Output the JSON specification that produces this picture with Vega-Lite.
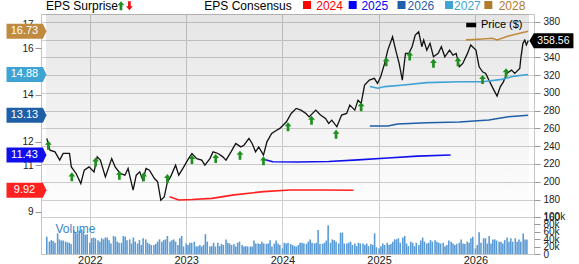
{
"$schema": "https://vega.github.io/schema/vega-lite/v6.json",
"width": 493, "height": 240,
"autosize": "none",
"padding": {"left": 41, "top": 14, "right": 45, "bottom": 10},
"background": "#ffffff",
"config": {"font": "Liberation Sans", "view": {"stroke": "#c4c4c4"}, "axisX": {"title": null}},
"data": {"values": [{}]},
"datasets": {
"price": [
{"d":"2021-07-22","p":248.7},{"d":"2021-08-03","p":235.5},{"d":"2021-08-22","p":233.6},{"d":"2021-09-09","p":224.3},{"d":"2021-09-22","p":231.8},{"d":"2021-10-16","p":231.8},{"d":"2021-10-23","p":216.7},{"d":"2021-11-10","p":209.3},{"d":"2021-11-28","p":198},{"d":"2021-12-11","p":213},{"d":"2021-12-29","p":216.7},
{"d":"2022-01-17","p":211},{"d":"2022-01-29","p":228},{"d":"2022-02-10","p":224.3},{"d":"2022-03-01","p":205.5},{"d":"2022-03-25","p":226},{"d":"2022-04-07","p":216.7},{"d":"2022-04-26","p":209.3},{"d":"2022-05-14","p":207.4},{"d":"2022-05-26","p":214.9},{"d":"2022-06-14","p":190.5},{"d":"2022-06-26","p":207.4},{"d":"2022-07-09","p":211.1},{"d":"2022-07-21","p":201.7},{"d":"2022-08-02","p":214.9},{"d":"2022-08-15","p":213},{"d":"2022-09-03","p":203.6},{"d":"2022-09-15","p":199.8},{"d":"2022-09-27","p":179.2},{"d":"2022-10-10","p":182.9},{"d":"2022-10-22","p":199.8},{"d":"2022-11-03","p":205.5},{"d":"2022-11-22","p":218.6},{"d":"2022-12-04","p":207.4},{"d":"2022-12-23","p":216.7},
{"d":"2023-01-10","p":226},{"d":"2023-01-23","p":231.8},{"d":"2023-02-10","p":226},{"d":"2023-03-01","p":224.3},{"d":"2023-03-13","p":218.6},{"d":"2023-04-01","p":226},{"d":"2023-04-13","p":233.6},{"d":"2023-05-02","p":231.8},{"d":"2023-05-20","p":228},{"d":"2023-06-01","p":224.3},{"d":"2023-06-20","p":233.6},{"d":"2023-07-08","p":243},{"d":"2023-07-27","p":239.2},{"d":"2023-08-08","p":241.1},{"d":"2023-08-27","p":248.7},{"d":"2023-09-08","p":243},{"d":"2023-09-21","p":233.6},{"d":"2023-10-03","p":239.2},{"d":"2023-10-21","p":229.9},{"d":"2023-11-03","p":244.9},{"d":"2023-11-21","p":254.3},{"d":"2023-12-10","p":258},{"d":"2023-12-22","p":260},
{"d":"2024-01-16","p":267.4},{"d":"2024-02-03","p":276.8},{"d":"2024-02-22","p":282.5},{"d":"2024-03-11","p":280.6},{"d":"2024-03-30","p":276.8},{"d":"2024-04-11","p":273},{"d":"2024-05-06","p":280.6},{"d":"2024-05-24","p":275},{"d":"2024-06-12","p":271.2},{"d":"2024-06-24","p":265.6},{"d":"2024-07-06","p":269.3},{"d":"2024-07-25","p":261.8},{"d":"2024-08-12","p":275},{"d":"2024-08-31","p":276.8},{"d":"2024-09-12","p":286.2},{"d":"2024-10-01","p":280.6},{"d":"2024-10-13","p":291.8},{"d":"2024-10-25","p":288.1},{"d":"2024-11-07","p":308.7},{"d":"2024-11-25","p":314.3},{"d":"2024-12-14","p":316.3},{"d":"2024-12-26","p":310.6},
{"d":"2025-01-07","p":318.1},{"d":"2025-01-22","p":333.1},{"d":"2025-02-03","p":348.1},{"d":"2025-02-21","p":363.1},{"d":"2025-03-05","p":348.1},{"d":"2025-03-18","p":333.1},{"d":"2025-03-30","p":314.3},{"d":"2025-04-11","p":344.4},{"d":"2025-04-24","p":344.4},{"d":"2025-05-06","p":351.9},{"d":"2025-05-18","p":365},{"d":"2025-05-31","p":368.7},{"d":"2025-06-12","p":351.9},{"d":"2025-06-19","p":359.4},{"d":"2025-07-01","p":348.1},{"d":"2025-07-13","p":355.7},{"d":"2025-07-26","p":340.6},{"d":"2025-08-13","p":344.4},{"d":"2025-08-25","p":351.9},{"d":"2025-09-07","p":340.6},{"d":"2025-09-25","p":348.1},{"d":"2025-10-08","p":342.5},{"d":"2025-10-20","p":344.4},{"d":"2025-11-01","p":329.3},{"d":"2025-11-14","p":333.1},{"d":"2025-12-02","p":344.4},{"d":"2025-12-14","p":353.8},
{"d":"2026-01-03","p":348.1},{"d":"2026-01-15","p":329.3},{"d":"2026-01-28","p":323.7},{"d":"2026-02-09","p":321.9},{"d":"2026-02-21","p":314.3},{"d":"2026-03-12","p":303.1},{"d":"2026-03-24","p":296.3},{"d":"2026-04-05","p":306.8},{"d":"2026-04-17","p":312.4},{"d":"2026-04-30","p":321.9},{"d":"2026-05-18","p":325.6},{"d":"2026-05-30","p":321.9},{"d":"2026-06-18","p":327.5},{"d":"2026-06-22","p":338.8},{"d":"2026-06-30","p":355.7},{"d":"2026-07-07","p":359.4},{"d":"2026-07-13","p":353.8},{"d":"2026-07-20","p":358.56}
],
"arrows": [
{"d":"2021-07-28","p":241.1},{"d":"2021-10-25","p":205.5},{"d":"2022-01-23","p":222.3},{"d":"2022-04-23","p":207.4},{"d":"2022-07-24","p":205.5},{"d":"2022-10-22","p":203.6},{"d":"2023-01-23","p":225},{"d":"2023-04-23","p":226.2},{"d":"2023-07-24","p":229.9},{"d":"2023-10-21","p":223.5},{"d":"2024-01-22","p":261.8},{"d":"2024-04-20","p":269.3},{"d":"2024-07-22","p":253.5},{"d":"2024-10-25","p":284.3},{"d":"2025-01-28","p":335},{"d":"2025-04-27","p":341.4},{"d":"2025-07-26","p":333.2},{"d":"2025-10-27","p":335},{"d":"2026-01-28","p":315.1},{"d":"2026-04-27","p":322.6}
],
"eps": [
{"d":"2022-10-30","s":"2024","e":9.64},{"d":"2022-12-04","s":"2024","e":9.5},{"d":"2023-01-23","s":"2024","e":9.52},{"d":"2023-04-09","s":"2024","e":9.57},{"d":"2023-07-01","s":"2024","e":9.72},{"d":"2023-10-21","s":"2024","e":9.86},{"d":"2024-01-30","s":"2024","e":9.93},{"d":"2024-05-25","s":"2024","e":9.93},{"d":"2024-09-26","s":"2024","e":9.92},
{"d":"2023-10-21","s":"2025","e":11.25},{"d":"2023-11-25","s":"2025","e":11.14},{"d":"2024-02-28","s":"2025","e":11.13},{"d":"2024-06-24","s":"2025","e":11.15},{"d":"2024-10-13","s":"2025","e":11.22},{"d":"2025-02-03","s":"2025","e":11.3},{"d":"2025-05-26","s":"2025","e":11.38},{"d":"2025-09-29","s":"2025","e":11.43},
{"d":"2024-11-27","s":"2026","e":12.67},{"d":"2025-02-03","s":"2026","e":12.67},{"d":"2025-03-12","s":"2026","e":12.76},{"d":"2025-07-01","s":"2026","e":12.81},{"d":"2025-11-01","s":"2026","e":12.84},{"d":"2026-02-21","s":"2026","e":12.93},{"d":"2026-05-06","s":"2026","e":13.07},{"d":"2026-07-07","s":"2026","e":13.12},{"d":"2026-07-20","s":"2026","e":13.13},
{"d":"2024-11-27","s":"2027","e":14.36},{"d":"2024-12-28","s":"2027","e":14.29},{"d":"2025-01-22","s":"2027","e":14.36},{"d":"2025-04-05","s":"2027","e":14.43},{"d":"2025-07-01","s":"2027","e":14.53},{"d":"2025-11-01","s":"2027","e":14.57},{"d":"2026-01-28","s":"2027","e":14.57},{"d":"2026-04-11","s":"2027","e":14.67},{"d":"2026-05-30","s":"2027","e":14.81},{"d":"2026-07-20","s":"2027","e":14.88},
{"d":"2025-11-26","s":"2028","e":16.36},{"d":"2026-01-15","s":"2028","e":16.39},{"d":"2026-03-06","s":"2028","e":16.43},{"d":"2026-03-24","s":"2028","e":16.36},{"d":"2026-05-06","s":"2028","e":16.53},{"d":"2026-07-20","s":"2028","e":16.73}
],
"badges": [
{"s":"2028","e":16.73},{"s":"2027","e":14.88},{"s":"2026","e":13.13},{"s":"2025","e":11.43},{"s":"2024","e":9.92}
],
"vol": [
{"d":"2021-07-22","v":46},
{"d":"2021-08-01","v":33},{"d":"2021-08-08","v":37},{"d":"2021-08-15","v":35},{"d":"2021-08-22","v":30},
{"d":"2021-09-01","v":55},{"d":"2021-09-08","v":39},{"d":"2021-09-15","v":36},{"d":"2021-09-22","v":36},
{"d":"2021-10-01","v":33},{"d":"2021-10-08","v":31},{"d":"2021-10-15","v":30},{"d":"2021-10-22","v":27},
{"d":"2021-11-01","v":64},{"d":"2021-11-08","v":58},{"d":"2021-11-15","v":55},{"d":"2021-11-22","v":62},
{"d":"2021-12-01","v":66},{"d":"2021-12-08","v":60},{"d":"2021-12-15","v":51},{"d":"2021-12-22","v":53},
{"d":"2022-01-01","v":30},{"d":"2022-01-08","v":42},{"d":"2022-01-15","v":44},{"d":"2022-01-22","v":42},
{"d":"2022-02-01","v":37},{"d":"2022-02-08","v":33},{"d":"2022-02-15","v":42},{"d":"2022-02-22","v":39},
{"d":"2022-03-01","v":44},{"d":"2022-03-08","v":44},{"d":"2022-03-15","v":37},{"d":"2022-03-22","v":28},
{"d":"2022-04-01","v":48},{"d":"2022-04-08","v":46},{"d":"2022-04-15","v":33},{"d":"2022-04-22","v":30},
{"d":"2022-05-01","v":30},{"d":"2022-05-08","v":48},{"d":"2022-05-15","v":46},{"d":"2022-05-22","v":37},
{"d":"2022-06-01","v":39},{"d":"2022-06-08","v":28},{"d":"2022-06-15","v":44},{"d":"2022-06-22","v":33},
{"d":"2022-07-01","v":28},{"d":"2022-07-08","v":37},{"d":"2022-07-15","v":24},{"d":"2022-07-22","v":42},
{"d":"2022-08-01","v":39},{"d":"2022-08-08","v":30},{"d":"2022-08-15","v":27},{"d":"2022-08-22","v":24},
{"d":"2022-09-01","v":24},{"d":"2022-09-08","v":27},{"d":"2022-09-15","v":33},{"d":"2022-09-22","v":39},
{"d":"2022-10-01","v":33},{"d":"2022-10-08","v":37},{"d":"2022-10-15","v":39},{"d":"2022-10-22","v":48},
{"d":"2022-11-01","v":33},{"d":"2022-11-08","v":37},{"d":"2022-11-15","v":39},{"d":"2022-11-22","v":33},
{"d":"2022-12-01","v":24},{"d":"2022-12-08","v":42},{"d":"2022-12-15","v":48},{"d":"2022-12-22","v":20},
{"d":"2023-01-01","v":28},{"d":"2023-01-08","v":24},{"d":"2023-01-15","v":30},{"d":"2023-01-22","v":30},
{"d":"2023-02-01","v":33},{"d":"2023-02-08","v":20},{"d":"2023-02-15","v":21},{"d":"2023-02-22","v":24},
{"d":"2023-03-01","v":20},{"d":"2023-03-08","v":24},{"d":"2023-03-15","v":53},{"d":"2023-03-22","v":33},
{"d":"2023-04-01","v":20},{"d":"2023-04-08","v":21},{"d":"2023-04-15","v":30},{"d":"2023-04-22","v":20},
{"d":"2023-05-01","v":30},{"d":"2023-05-08","v":21},{"d":"2023-05-15","v":27},{"d":"2023-05-22","v":24},
{"d":"2023-06-01","v":39},{"d":"2023-06-08","v":30},{"d":"2023-06-15","v":28},{"d":"2023-06-22","v":24},
{"d":"2023-07-01","v":27},{"d":"2023-07-08","v":20},{"d":"2023-07-15","v":30},{"d":"2023-07-22","v":33},
{"d":"2023-08-01","v":24},{"d":"2023-08-08","v":20},{"d":"2023-08-15","v":21},{"d":"2023-08-22","v":20},
{"d":"2023-09-01","v":20},{"d":"2023-09-08","v":20},{"d":"2023-09-15","v":36},{"d":"2023-09-22","v":28},
{"d":"2023-10-01","v":28},{"d":"2023-10-08","v":27},{"d":"2023-10-15","v":33},{"d":"2023-10-22","v":28},
{"d":"2023-11-01","v":27},{"d":"2023-11-08","v":28},{"d":"2023-11-15","v":37},{"d":"2023-11-22","v":20},
{"d":"2023-12-01","v":28},{"d":"2023-12-08","v":36},{"d":"2023-12-15","v":28},{"d":"2023-12-22","v":24},
{"d":"2024-01-01","v":15},{"d":"2024-01-08","v":30},{"d":"2024-01-15","v":28},{"d":"2024-01-22","v":30},
{"d":"2024-02-01","v":27},{"d":"2024-02-08","v":24},{"d":"2024-02-15","v":21},{"d":"2024-02-22","v":20},
{"d":"2024-03-01","v":24},{"d":"2024-03-08","v":30},{"d":"2024-03-15","v":30},{"d":"2024-03-22","v":28},
{"d":"2024-04-01","v":27},{"d":"2024-04-08","v":33},{"d":"2024-04-15","v":39},{"d":"2024-04-22","v":30},
{"d":"2024-05-01","v":28},{"d":"2024-05-08","v":30},{"d":"2024-05-15","v":64},{"d":"2024-05-22","v":27},
{"d":"2024-06-01","v":27},{"d":"2024-06-08","v":30},{"d":"2024-06-15","v":36},{"d":"2024-06-22","v":77},
{"d":"2024-07-01","v":30},{"d":"2024-07-08","v":39},{"d":"2024-07-15","v":37},{"d":"2024-07-22","v":33},
{"d":"2024-08-01","v":28},{"d":"2024-08-08","v":57},{"d":"2024-08-15","v":57},{"d":"2024-08-22","v":28},
{"d":"2024-09-01","v":28},{"d":"2024-09-08","v":30},{"d":"2024-09-15","v":33},{"d":"2024-09-22","v":24},
{"d":"2024-10-01","v":28},{"d":"2024-10-08","v":21},{"d":"2024-10-15","v":30},{"d":"2024-10-22","v":28},
{"d":"2024-11-01","v":28},{"d":"2024-11-08","v":24},{"d":"2024-11-15","v":28},{"d":"2024-11-22","v":21},
{"d":"2024-12-01","v":27},{"d":"2024-12-08","v":24},{"d":"2024-12-15","v":55},{"d":"2024-12-22","v":18},
{"d":"2025-01-01","v":15},{"d":"2025-01-08","v":21},{"d":"2025-01-15","v":28},{"d":"2025-01-22","v":24},
{"d":"2025-02-01","v":30},{"d":"2025-02-08","v":24},{"d":"2025-02-15","v":27},{"d":"2025-02-22","v":33},
{"d":"2025-03-01","v":39},{"d":"2025-03-08","v":39},{"d":"2025-03-15","v":42},{"d":"2025-03-22","v":30},
{"d":"2025-04-01","v":44},{"d":"2025-04-08","v":48},{"d":"2025-04-15","v":28},{"d":"2025-04-22","v":21},
{"d":"2025-05-01","v":33},{"d":"2025-05-08","v":30},{"d":"2025-05-15","v":21},{"d":"2025-05-22","v":30},
{"d":"2025-06-01","v":24},{"d":"2025-06-08","v":36},{"d":"2025-06-15","v":44},{"d":"2025-06-22","v":33},
{"d":"2025-07-01","v":28},{"d":"2025-07-08","v":30},{"d":"2025-07-15","v":37},{"d":"2025-07-22","v":33},
{"d":"2025-08-01","v":37},{"d":"2025-08-08","v":33},{"d":"2025-08-15","v":30},{"d":"2025-08-22","v":28},
{"d":"2025-09-01","v":30},{"d":"2025-09-08","v":21},{"d":"2025-09-15","v":24},{"d":"2025-09-22","v":36},
{"d":"2025-10-01","v":33},{"d":"2025-10-08","v":28},{"d":"2025-10-15","v":24},{"d":"2025-10-22","v":27},
{"d":"2025-11-01","v":30},{"d":"2025-11-08","v":39},{"d":"2025-11-15","v":28},{"d":"2025-11-22","v":27},
{"d":"2025-12-01","v":33},{"d":"2025-12-08","v":30},{"d":"2025-12-15","v":42},{"d":"2025-12-22","v":46},
{"d":"2026-01-01","v":15},{"d":"2026-01-08","v":24},{"d":"2026-01-15","v":58},{"d":"2026-01-22","v":30},
{"d":"2026-02-01","v":42},{"d":"2026-02-08","v":42},{"d":"2026-02-15","v":28},{"d":"2026-02-22","v":48},
{"d":"2026-03-01","v":28},{"d":"2026-03-08","v":39},{"d":"2026-03-15","v":39},{"d":"2026-03-22","v":36},
{"d":"2026-04-01","v":33},{"d":"2026-04-08","v":33},{"d":"2026-04-15","v":28},{"d":"2026-04-22","v":37},
{"d":"2026-05-01","v":44},{"d":"2026-05-08","v":33},{"d":"2026-05-15","v":42},{"d":"2026-05-22","v":33},
{"d":"2026-06-01","v":42},{"d":"2026-06-08","v":33},{"d":"2026-06-15","v":39},{"d":"2026-06-22","v":33},
{"d":"2026-07-01","v":55},{"d":"2026-07-08","v":39},{"d":"2026-07-15","v":39}
]
},
"resolve": {"scale": {"y": "independent"}, "axis": {"y": "independent"}},
"layer": [
{"mark": {"type": "rect", "color": {"gradient": "linear", "x1": 0, "y1": 0, "x2": 0, "y2": 1, "stops": [{"offset": 0, "color": "rgba(0,0,0,0.1)"}, {"offset": 1, "color": "rgba(0,0,0,0)"}]}},
 "encoding": {
  "x": {"datum": {"year": 2021, "month": 7, "date": 19, "utc": true}, "type": "temporal", "scale": {"type": "utc", "domain": [{"year": 2021, "month": 7, "date": 19, "utc": true}, {"year": 2026, "month": 7, "date": 23, "utc": true}]},
   "axis": {"values": [{"year": 2022, "month": 1, "date": 1, "utc": true}, {"year": 2023, "month": 1, "date": 1, "utc": true}, {"year": 2024, "month": 1, "date": 1, "utc": true}, {"year": 2025, "month": 1, "date": 1, "utc": true}, {"year": 2026, "month": 1, "date": 1, "utc": true}], "format": "%Y", "grid": true, "gridColor": "#cfcfcf", "domain": false, "ticks": false, "labelPadding": 0, "labelFontSize": 11, "labelColor": "#222222", "labelFlush": false, "title": null}},
  "x2": {"datum": {"year": 2026, "month": 7, "date": 23, "utc": true}},
  "y": {"datum": 388.7, "type": "quantitative", "scale": {"domain": [118.7, 388.7], "range": [240, 0], "nice": false, "zero": false}, "axis": null},
  "y2": {"datum": 160}
 }},
{"data": {"name": "vol"}, "mark": {"type": "bar", "size": 1.6, "color": "#5b9bd5"},
 "encoding": {
  "x": {"field": "d", "type": "temporal", "scale": {"type": "utc", "domain": [{"year": 2021, "month": 7, "date": 19, "utc": true}, {"year": 2026, "month": 7, "date": 23, "utc": true}]}},
  "y": {"field": "v", "type": "quantitative", "scale": {"domain": [0, 100], "range": [240, 202.5], "nice": false},
   "axis": {"orient": "right", "values": [0, 20, 40, 60, 80, 100], "labelExpr": "datum.value == 0 ? '0' : datum.value + 'k'", "grid": false, "domain": false, "tickColor": "#999999", "tickSize": 6, "labelPadding": 3, "labelFontSize": 10, "labelColor": "#222222", "labelOverlap": false, "title": null}}
 }},
{"mark": {"type": "text", "text": "Volume", "align": "left", "baseline": "middle", "fontSize": 12, "color": "#3d85c6"},
 "encoding": {
  "x": {"datum": {"year": 2021, "month": 8, "date": 24, "utc": true}, "type": "temporal"},
  "y": {"datum": 68, "type": "quantitative", "scale": {"domain": [0, 100], "range": [240, 202.5], "nice": false}, "axis": null}
 }},
{"data": {"name": "price"}, "mark": {"type": "line", "color": "#111111", "strokeWidth": 1.3},
 "encoding": {
  "x": {"field": "d", "type": "temporal"},
  "y": {"field": "p", "type": "quantitative", "scale": {"domain": [160, 388.7], "range": [203.3, 0], "nice": false, "zero": false},
   "axis": {"orient": "right", "values": [160, 180, 200, 220, 240, 260, 280, 300, 320, 340, 360, 380], "grid": true, "gridColor": "#cfcfcf", "domain": false, "tickColor": "#999999", "tickSize": 6, "labelPadding": 3, "labelFontSize": 10, "labelColor": "#222222", "labelOverlap": false, "title": null}}
 }},
{"data": {"name": "eps"}, "mark": {"type": "line", "strokeWidth": 1.6},
 "encoding": {
  "x": {"field": "d", "type": "temporal"},
  "y": {"field": "e", "type": "quantitative", "scale": {"domain": [8.76, 17.47], "range": [203.3, 0], "nice": false, "zero": false},
   "axis": {"orient": "left", "values": [9, 10, 11, 12, 13, 14, 15, 16, 17], "grid": false, "domain": false, "tickColor": "#999999", "tickSize": 6, "labelPadding": 2, "labelFontSize": 10, "labelColor": "#222222", "labelOverlap": false, "title": null}},
  "color": {"field": "s", "type": "nominal", "scale": {"domain": ["2024", "2025", "2026", "2027", "2028"], "range": ["#ff2020", "#1010ee", "#1f5fa8", "#3fa3d3", "#c08a40"]}, "legend": null}
 }},
{"data": {"name": "arrows"}, "mark": {"type": "point", "shape": "M0,-1L0.75,-0.1L0.3,-0.1L0.3,1L-0.3,1L-0.3,-0.1L-0.75,-0.1Z", "size": 81, "filled": true, "color": "#1f8f1f", "opacity": 1, "strokeWidth": 0},
 "encoding": {
  "x": {"field": "d", "type": "temporal"},
  "y": {"field": "p", "type": "quantitative", "scale": {"domain": [160, 388.7], "range": [203.3, 0], "nice": false, "zero": false}, "axis": null}
 }},
{"data": {"name": "badges"}, "mark": {"type": "point", "shape": "M-1,-0.375L0.82,-0.375L1,0L0.82,0.375L-1,0.375Z", "size": 1600, "filled": true, "opacity": 1, "strokeWidth": 0},
 "encoding": {
  "x": {"datum": {"year": 2021, "month": 5, "date": 6, "utc": true}, "type": "temporal"},
  "y": {"field": "e", "type": "quantitative", "scale": {"domain": [8.76, 17.47], "range": [203.3, 0], "nice": false, "zero": false}, "axis": null},
  "color": {"field": "s", "type": "nominal", "scale": {"domain": ["2024", "2025", "2026", "2027", "2028"], "range": ["#ff2020", "#1010ee", "#1f5fa8", "#3fa3d3", "#c08a40"]}, "legend": null}
 }},
{"data": {"name": "badges"}, "mark": {"type": "text", "align": "center", "baseline": "middle", "fontSize": 11, "color": "#ffffff", "dx": -2},
 "encoding": {
  "x": {"datum": {"year": 2021, "month": 5, "date": 6, "utc": true}, "type": "temporal"},
  "y": {"field": "e", "type": "quantitative", "scale": {"domain": [8.76, 17.47], "range": [203.3, 0], "nice": false, "zero": false}, "axis": null},
  "text": {"field": "e", "type": "quantitative", "format": ".2f"}
 }},
{"mark": {"type": "point", "shape": "M-1,-0.45L1,-0.45L1,0.45L-1,0.45Z", "size": 100, "filled": true, "color": "#000000", "opacity": 1, "strokeWidth": 0},
 "encoding": {
  "x": {"datum": {"year": 2025, "month": 12, "date": 16, "utc": true}, "type": "temporal"},
  "y": {"datum": 376.3, "type": "quantitative", "scale": {"domain": [160, 388.7], "range": [203.3, 0], "nice": false, "zero": false}, "axis": null}
 }},
{"mark": {"type": "text", "text": "Price ($)", "align": "left", "baseline": "middle", "fontSize": 11, "color": "#000000"},
 "encoding": {
  "x": {"datum": {"year": 2026, "month": 1, "date": 22, "utc": true}, "type": "temporal"},
  "y": {"datum": 376.3, "type": "quantitative", "scale": {"domain": [160, 388.7], "range": [203.3, 0], "nice": false, "zero": false}, "axis": null}
 }},
{"mark": {"type": "point", "shape": "M1,-0.34L-0.8,-0.34L-1,0L-0.8,0.34L1,0.34Z", "size": 1936, "filled": true, "color": "#000000", "opacity": 1, "strokeWidth": 0},
 "encoding": {
  "x": {"datum": {"year": 2026, "month": 10, "date": 16, "utc": true}, "type": "temporal"},
  "y": {"datum": 358.56, "type": "quantitative", "scale": {"domain": [160, 388.7], "range": [203.3, 0], "nice": false, "zero": false}, "axis": null}
 }},
{"mark": {"type": "text", "text": "358.56", "align": "center", "baseline": "middle", "fontSize": 10.5, "color": "#ffffff", "dx": 2},
 "encoding": {
  "x": {"datum": {"year": 2026, "month": 10, "date": 16, "utc": true}, "type": "temporal"},
  "y": {"datum": 358.56, "type": "quantitative", "scale": {"domain": [160, 388.7], "range": [203.3, 0], "nice": false, "zero": false}, "axis": null}
 }},
{"mark": {"type": "text", "text": "EPS Surprise", "align": "left", "baseline": "middle", "fontSize": 12, "color": "#000000"},
 "encoding": {
  "x": {"datum": {"year": 2021, "month": 7, "date": 19, "utc": true}, "type": "temporal"},
  "y": {"datum": 398, "type": "quantitative", "scale": {"domain": [160, 388.7], "range": [203.3, 0], "nice": false, "zero": false}, "axis": null}
 }},
{"mark": {"type": "point", "shape": "M0,-1L0.75,-0.1L0.3,-0.1L0.3,1L-0.3,1L-0.3,-0.1L-0.75,-0.1Z", "size": 81, "filled": true, "color": "#1f8f1f", "opacity": 1, "strokeWidth": 0},
 "encoding": {
  "x": {"datum": {"year": 2022, "month": 4, "date": 29, "utc": true}, "type": "temporal"},
  "y": {"datum": 398, "type": "quantitative", "scale": {"domain": [160, 388.7], "range": [203.3, 0], "nice": false, "zero": false}, "axis": null}
 }},
{"mark": {"type": "point", "shape": "M0,1L0.75,0.1L0.3,0.1L0.3,-1L-0.3,-1L-0.3,0.1L-0.75,0.1Z", "size": 81, "filled": true, "color": "#ee1111", "opacity": 1, "strokeWidth": 0},
 "encoding": {
  "x": {"datum": {"year": 2022, "month": 5, "date": 31, "utc": true}, "type": "temporal"},
  "y": {"datum": 398, "type": "quantitative", "scale": {"domain": [160, 388.7], "range": [203.3, 0], "nice": false, "zero": false}, "axis": null}
 }},
{"mark": {"type": "text", "text": "EPS Consensus", "align": "left", "baseline": "middle", "fontSize": 12, "color": "#000000"},
 "encoding": {
  "x": {"datum": {"year": 2023, "month": 3, "date": 11, "utc": true}, "type": "temporal"},
  "y": {"datum": 398, "type": "quantitative", "scale": {"domain": [160, 388.7], "range": [203.3, 0], "nice": false, "zero": false}, "axis": null}
 }},
{"mark": {"type": "point", "shape": "square", "size": 64, "filled": true, "color": "#ff0000", "opacity": 1, "strokeWidth": 0},
 "encoding": {
  "x": {"datum": {"year": 2024, "month": 4, "date": 3, "utc": true}, "type": "temporal"},
  "y": {"datum": 398.8, "type": "quantitative", "scale": {"domain": [160, 388.7], "range": [203.3, 0], "nice": false, "zero": false}, "axis": null}
 }},
{"mark": {"type": "text", "text": "2024", "align": "left", "baseline": "middle", "fontSize": 12, "color": "#ff0000"},
 "encoding": {
  "x": {"datum": {"year": 2024, "month": 5, "date": 8, "utc": true}, "type": "temporal"},
  "y": {"datum": 398, "type": "quantitative", "scale": {"domain": [160, 388.7], "range": [203.3, 0], "nice": false, "zero": false}, "axis": null}
 }},
{"mark": {"type": "point", "shape": "square", "size": 64, "filled": true, "color": "#0000ff", "opacity": 1, "strokeWidth": 0},
 "encoding": {
  "x": {"datum": {"year": 2024, "month": 9, "date": 23, "utc": true}, "type": "temporal"},
  "y": {"datum": 398.8, "type": "quantitative", "scale": {"domain": [160, 388.7], "range": [203.3, 0], "nice": false, "zero": false}, "axis": null}
 }},
{"mark": {"type": "text", "text": "2025", "align": "left", "baseline": "middle", "fontSize": 12, "color": "#0000ff"},
 "encoding": {
  "x": {"datum": {"year": 2024, "month": 10, "date": 26, "utc": true}, "type": "temporal"},
  "y": {"datum": 398, "type": "quantitative", "scale": {"domain": [160, 388.7], "range": [203.3, 0], "nice": false, "zero": false}, "axis": null}
 }},
{"mark": {"type": "point", "shape": "square", "size": 64, "filled": true, "color": "#1f5fa8", "opacity": 1, "strokeWidth": 0},
 "encoding": {
  "x": {"datum": {"year": 2025, "month": 3, "date": 27, "utc": true}, "type": "temporal"},
  "y": {"datum": 398.8, "type": "quantitative", "scale": {"domain": [160, 388.7], "range": [203.3, 0], "nice": false, "zero": false}, "axis": null}
 }},
{"mark": {"type": "text", "text": "2026", "align": "left", "baseline": "middle", "fontSize": 12, "color": "#1f5fa8"},
 "encoding": {
  "x": {"datum": {"year": 2025, "month": 4, "date": 19, "utc": true}, "type": "temporal"},
  "y": {"datum": 398, "type": "quantitative", "scale": {"domain": [160, 388.7], "range": [203.3, 0], "nice": false, "zero": false}, "axis": null}
 }},
{"mark": {"type": "point", "shape": "square", "size": 64, "filled": true, "color": "#3fa3d3", "opacity": 1, "strokeWidth": 0},
 "encoding": {
  "x": {"datum": {"year": 2025, "month": 9, "date": 23, "utc": true}, "type": "temporal"},
  "y": {"datum": 398.8, "type": "quantitative", "scale": {"domain": [160, 388.7], "range": [203.3, 0], "nice": false, "zero": false}, "axis": null}
 }},
{"mark": {"type": "text", "text": "2027", "align": "left", "baseline": "middle", "fontSize": 12, "color": "#3fa3d3"},
 "encoding": {
  "x": {"datum": {"year": 2025, "month": 10, "date": 12, "utc": true}, "type": "temporal"},
  "y": {"datum": 398, "type": "quantitative", "scale": {"domain": [160, 388.7], "range": [203.3, 0], "nice": false, "zero": false}, "axis": null}
 }},
{"mark": {"type": "point", "shape": "square", "size": 64, "filled": true, "color": "#b07b2c", "opacity": 1, "strokeWidth": 0},
 "encoding": {
  "x": {"datum": {"year": 2026, "month": 2, "date": 19, "utc": true}, "type": "temporal"},
  "y": {"datum": 398.8, "type": "quantitative", "scale": {"domain": [160, 388.7], "range": [203.3, 0], "nice": false, "zero": false}, "axis": null}
 }},
{"mark": {"type": "text", "text": "2028", "align": "left", "baseline": "middle", "fontSize": 12, "color": "#b07b2c"},
 "encoding": {
  "x": {"datum": {"year": 2026, "month": 3, "date": 30, "utc": true}, "type": "temporal"},
  "y": {"datum": 398, "type": "quantitative", "scale": {"domain": [160, 388.7], "range": [203.3, 0], "nice": false, "zero": false}, "axis": null}
 }}
]
}
